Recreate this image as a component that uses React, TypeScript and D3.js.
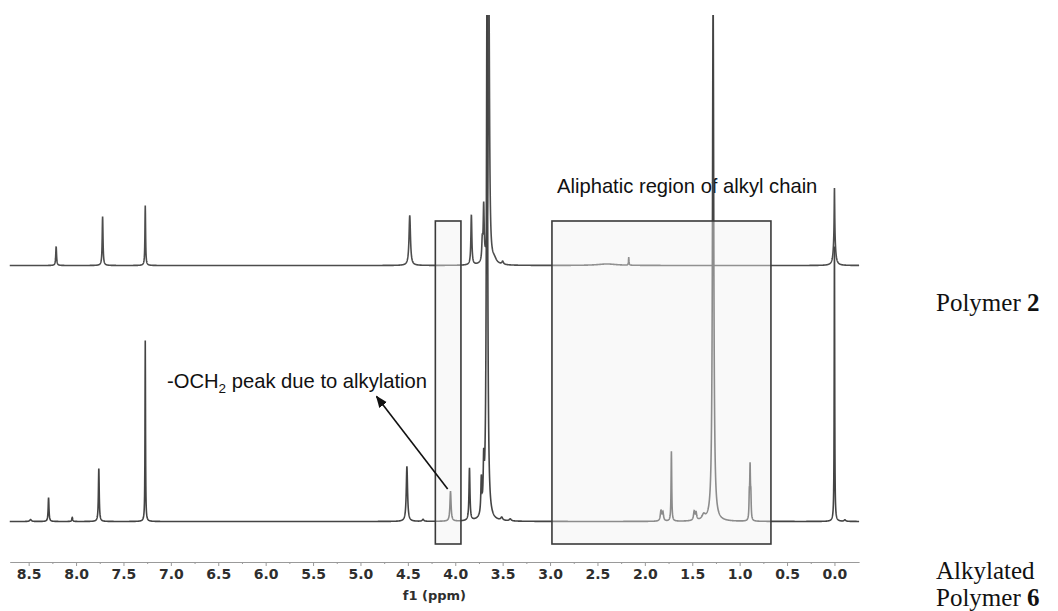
import { useEffect, useRef } from 'react';
import * as d3 from 'd3';

// chemical shift window (ppm), high field on the right
const shiftDomain = [8.7, -0.26];
const majorTicks = [8.5, 8.0, 7.5, 7.0, 6.5, 6.0, 5.5, 5.0, 4.5, 4.0, 3.5, 3.0, 2.5, 2.0, 1.5, 1.0, 0.5, 0.0];
const minorTicks = [8.25, 7.75, 7.25, 6.75, 6.25, 5.75, 5.25, 4.75, 4.25, 3.75, 3.25, 2.75, 2.25, 1.75, 1.25, 0.75, 0.25];

// Polymer 2 (upper trace): peak centre (ppm), intensity, half width (ppm)
const topShift = [8.21, 7.72, 7.27, 4.48, 3.83, 3.715, 3.70, 3.645, 3.59, 3.50, 2.40, 2.17, 0.0, 0.0];
const topHeight = [7.6, 19.6, 24, 20, 20, 8, 22, 110, 2, 1.2, 0.6, 3.2, 19, 12];
const topWidth = [0.005, 0.005, 0.004, 0.009, 0.006, 0.006, 0.006, 0.008, 0.03, 0.01, 0.12, 0.003, 0.003, 0.012];

// Alkylated polymer 6 (lower trace)
const bottomShift = [8.48, 8.29, 8.04, 7.76, 7.27, 4.51, 4.34, 4.05, 3.85, 3.725, 3.70, 3.665, 3.51, 3.42,
  1.83, 1.81, 1.72, 1.48, 1.46, 1.38, 1.28, 0.898, 0.89, 0.882, 0.0, -0.11];
const bottomHeight = [0.8, 9.6, 1.6, 21.2, 72.4, 22, 0.8, 12, 21, 14, 18, 215, 1.2, 0.8,
  4, 3.5, 28, 3.5, 3, 2, 210, 9, 20, 9, 110, 0.6];
const bottomWidth = [0.01, 0.005, 0.005, 0.005, 0.003, 0.008, 0.01, 0.007, 0.006, 0.006, 0.006, 0.008, 0.012, 0.012,
  0.008, 0.008, 0.004, 0.008, 0.008, 0.02, 0.008, 0.004, 0.004, 0.004, 0.003, 0.01];

// highlighted regions (ppm)
const oxyRegion = [4.21, 3.94];
const alkylRegion = [2.98, 0.67];

function trace(shift: number[], height: number[], width: number[]) {
  const pts: number[] = d3.range(shiftDomain[1], shiftDomain[0] + 0.0001, 0.0015);
  const all = pts.concat(shift).sort((a, b) => a - b);
  return all.map(p => {
    let v = 0;
    for (let i = 0; i < shift.length; i++) {
      const d = (p - shift[i]) / width[i];
      v += height[i] / (1 + d * d);
    }
    return [p, v] as [number, number];
  });
}

export default function App() {
  const ref = useRef<SVGSVGElement>(null);

  useEffect(() => {
    const svg = d3.select(ref.current);
    svg.selectAll('*').remove();

    const x = d3.scaleLinear().domain(shiftDomain).range([9.7, 859.1]);
    const yTop = d3.scaleLinear().domain([0, 100]).range([265.5, 15.5]);
    const yBot = d3.scaleLinear().domain([0, 100]).range([521.5, 271.5]);
    const boxTop = 221;
    const boxBottom = 544;
    const axisY = 562;

    const defs = svg.append('defs');
    defs.append('clipPath').attr('id', 'nmr-clip')
      .append('rect').attr('x', 0).attr('y', 15).attr('width', 1058).attr('height', 596);
    defs.append('marker')
      .attr('id', 'arrow-head')
      .attr('viewBox', '0 0 10 10')
      .attr('refX', 9).attr('refY', 5)
      .attr('markerUnits', 'userSpaceOnUse')
      .attr('markerWidth', 12).attr('markerHeight', 12)
      .attr('orient', 'auto')
      .append('path').attr('d', 'M0,1 L10,5 L0,9 Z').attr('fill', '#111');

    // annotations under the traces
    svg.append('text')
      .attr('x', 557).attr('y', 193)
      .attr('font-family', '"Liberation Sans", Arial, sans-serif')
      .attr('font-size', 20.2)
      .attr('fill', '#111')
      .text('Aliphatic region of alkyl chain');

    const och = svg.append('text')
      .attr('x', 167).attr('y', 388)
      .attr('font-family', '"Liberation Sans", Arial, sans-serif')
      .attr('font-size', 20.2)
      .attr('fill', '#111');
    och.append('tspan').text('-OCH');
    och.append('tspan').attr('dy', 5).attr('font-size', 13.5).text('2');
    och.append('tspan').attr('dy', -5).text(' peak due to alkylation');

    // spectra
    const line = (y: d3.ScaleLinear<number, number>) =>
      d3.line<[number, number]>().x(d => x(d[0])).y(d => y(d[1]));

    const plot = svg.append('g').attr('clip-path', 'url(#nmr-clip)');
    plot.append('path')
      .attr('d', line(yTop)(trace(topShift, topHeight, topWidth)))
      .attr('fill', 'none').attr('stroke', '#4d4d4d').attr('stroke-width', 1.6);
    plot.append('path')
      .attr('d', line(yBot)(trace(bottomShift, bottomHeight, bottomWidth)))
      .attr('fill', 'none').attr('stroke', '#444').attr('stroke-width', 1.6);

    // highlight boxes
    [oxyRegion, alkylRegion].forEach(r => {
      svg.append('rect')
        .attr('x', x(r[0])).attr('y', boxTop)
        .attr('width', x(r[1]) - x(r[0])).attr('height', boxBottom - boxTop)
        .attr('fill', '#f0f0f0').attr('fill-opacity', 0.42)
        .attr('stroke', '#3a3a3a').attr('stroke-width', 1.6);
    });

    // arrow to the OCH2 peak
    svg.append('line')
      .attr('x1', x(4.08)).attr('y1', yBot(13))
      .attr('x2', x(4.83)).attr('y2', yBot(50))
      .attr('stroke', '#111').attr('stroke-width', 1.6)
      .attr('marker-end', 'url(#arrow-head)');

    // ppm axis
    const axis = svg.append('g').attr('transform', `translate(0,${axisY})`);
    axis.call(d3.axisBottom(x).tickValues(majorTicks).tickSize(4).tickSizeOuter(0).tickFormat(d3.format('.1f')));
    axis.select('.domain').attr('stroke', '#9a9a9a');
    axis.selectAll('.tick line').attr('stroke', '#9a9a9a');
    axis.selectAll('.tick text')
      .attr('font-family', '"DejaVu Sans", Verdana, sans-serif')
      .attr('font-weight', 'bold')
      .attr('font-size', 14)
      .attr('fill', '#2e2e2e');

    const minor = svg.append('g').attr('transform', `translate(0,${axisY})`);
    minor.call(d3.axisBottom(x).tickValues(minorTicks).tickSize(2).tickSizeOuter(0).tickFormat(() => ''));
    minor.select('.domain').remove();
    minor.selectAll('.tick line').attr('stroke', '#9a9a9a');

    svg.append('text')
      .attr('x', (x.range()[0] + x.range()[1]) / 2).attr('y', 600)
      .attr('text-anchor', 'middle')
      .attr('font-family', '"DejaVu Sans", Verdana, sans-serif')
      .attr('font-weight', 'bold')
      .attr('font-size', 13)
      .attr('fill', '#2e2e2e')
      .text('f1 (ppm)');

    // sample labels
    const serif = '"Liberation Serif", "Times New Roman", serif';
    const p2 = svg.append('text').attr('x', 936).attr('y', 311)
      .attr('font-family', serif).attr('font-size', 25).attr('fill', '#111');
    p2.append('tspan').text('Polymer ');
    p2.append('tspan').attr('font-weight', 'bold').text('2');

    svg.append('text').attr('x', 936).attr('y', 579)
      .attr('font-family', serif).attr('font-size', 25).attr('fill', '#111')
      .text('Alkylated');
    const p6 = svg.append('text').attr('x', 936).attr('y', 606)
      .attr('font-family', serif).attr('font-size', 25).attr('fill', '#111');
    p6.append('tspan').text('Polymer ');
    p6.append('tspan').attr('font-weight', 'bold').text('6');
  }, []);

  return (
    <svg ref={ref} width={1058} height={611}
      style={{ position: 'absolute', left: 0, top: 0, background: '#fff' }} />
  );
}
